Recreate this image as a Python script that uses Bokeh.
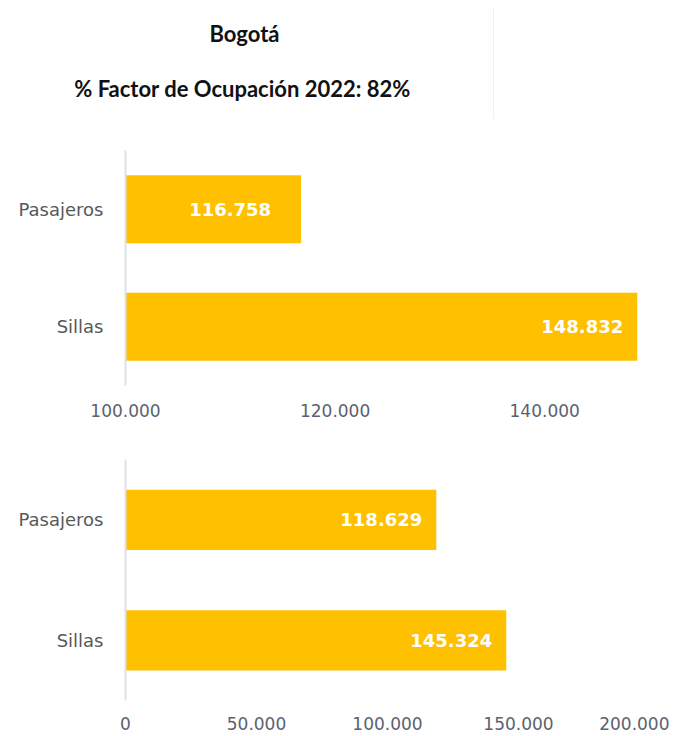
from bokeh.plotting import figure
from bokeh.layouts import column, row
from bokeh.models import Range1d, FactorRange, FixedTicker, ColumnDataSource, Label
from bokeh.core.properties import value
from bokeh.embed import file_html
from bokeh.resources import INLINE

# ---- data ----
title_text = "Bogotá"
subtitle_text = "% Factor de Ocupación 2022: 82%"
categories = ["Sillas", "Pasajeros"]          # bottom -> top
values_top = [148832, 116758]
values_bottom = [145324, 118629]
ticks_top = [100000, 120000, 140000]
ticks_bottom = [0, 50000, 100000, 150000, 200000]
range_top = (100000, 150000)
range_bottom = (0, 200000)

BAR = "#FFC000"
TICK_COLOR = "#5a6270"
CAT_COLOR = "#595959"
W = 669
LEFT = 125
RIGHT = W - 649


def fmt(v):
    return f"{v:,}".replace(",", ".")


# ---- title figure ----
t = figure(width=W, height=140, x_range=Range1d(0, W), y_range=Range1d(140, 0),
           output_backend="svg", toolbar_location=None, min_border=0,
           x_axis_location=None, y_axis_location=None)
t.grid.visible = False
t.outline_line_color = None
t.text(x=[244, 242], y=[33, 88], text=[title_text, subtitle_text],
       text_align="center", text_baseline="middle",
       text_font=value("Lato"), text_font_style="bold", text_font_size="22px",
       text_color="#111111")
t.segment(x0=[493], y0=[8], x1=[493], y1=[118], line_color="#f0f0f0", line_width=1)


def bar_chart(vals, ticks, xr, height, bt, bb, bar_h, offsets, standoff):
    p = figure(width=W, height=height, y_range=FactorRange(*categories, range_padding=0),
               x_range=Range1d(*xr), output_backend="svg", toolbar_location=None,
               min_border_left=LEFT, min_border_right=RIGHT, min_border_top=bt,
               min_border_bottom=bb)
    src = ColumnDataSource(dict(cat=categories, val=vals, lab=[fmt(v) for v in vals],
                                off=offsets))
    p.hbar(y="cat", right="val", left=xr[0], height=bar_h, source=src,
           fill_color=BAR, line_color=None)
    p.text(x="val", y="cat", text="lab", x_offset="off", source=src,
           text_align="right", text_baseline="middle", text_color="white",
           text_font=value("DejaVu Sans"), text_font_style="bold", text_font_size="18px")
    p.grid.visible = False
    p.outline_line_color = None
    p.xaxis.ticker = FixedTicker(ticks=ticks)
    p.xaxis.major_label_overrides = {tk: fmt(tk) for tk in ticks}
    p.xaxis.axis_line_color = None
    p.xaxis.major_tick_line_color = None
    p.xaxis.minor_tick_line_color = None
    p.xaxis.major_label_text_font = "DejaVu Sans"
    p.xaxis.major_label_text_font_size = "17px"
    p.xaxis.major_label_text_color = TICK_COLOR
    p.xaxis.major_label_standoff = standoff
    p.yaxis.axis_line_color = "#dde1e8"
    p.yaxis.axis_line_width = 2
    p.yaxis.major_tick_line_color = None
    p.yaxis.minor_tick_line_color = None
    p.yaxis.major_label_text_font = "DejaVu Sans"
    p.yaxis.major_label_text_font_size = "18px"
    p.yaxis.major_label_text_color = CAT_COLOR
    p.yaxis.major_label_standoff = 16
    return p


p1 = bar_chart(values_top, ticks_top, range_top, 300, 10, 55, 0.58, [-14, -30], 12)
p2 = bar_chart(values_bottom, ticks_bottom, range_bottom, 296, 19, 36, 0.5, [-14, -14], 10)

layout = column(row(t), p1, p2, spacing=0)
open("out.html", "w").write(file_html(layout, INLINE))
